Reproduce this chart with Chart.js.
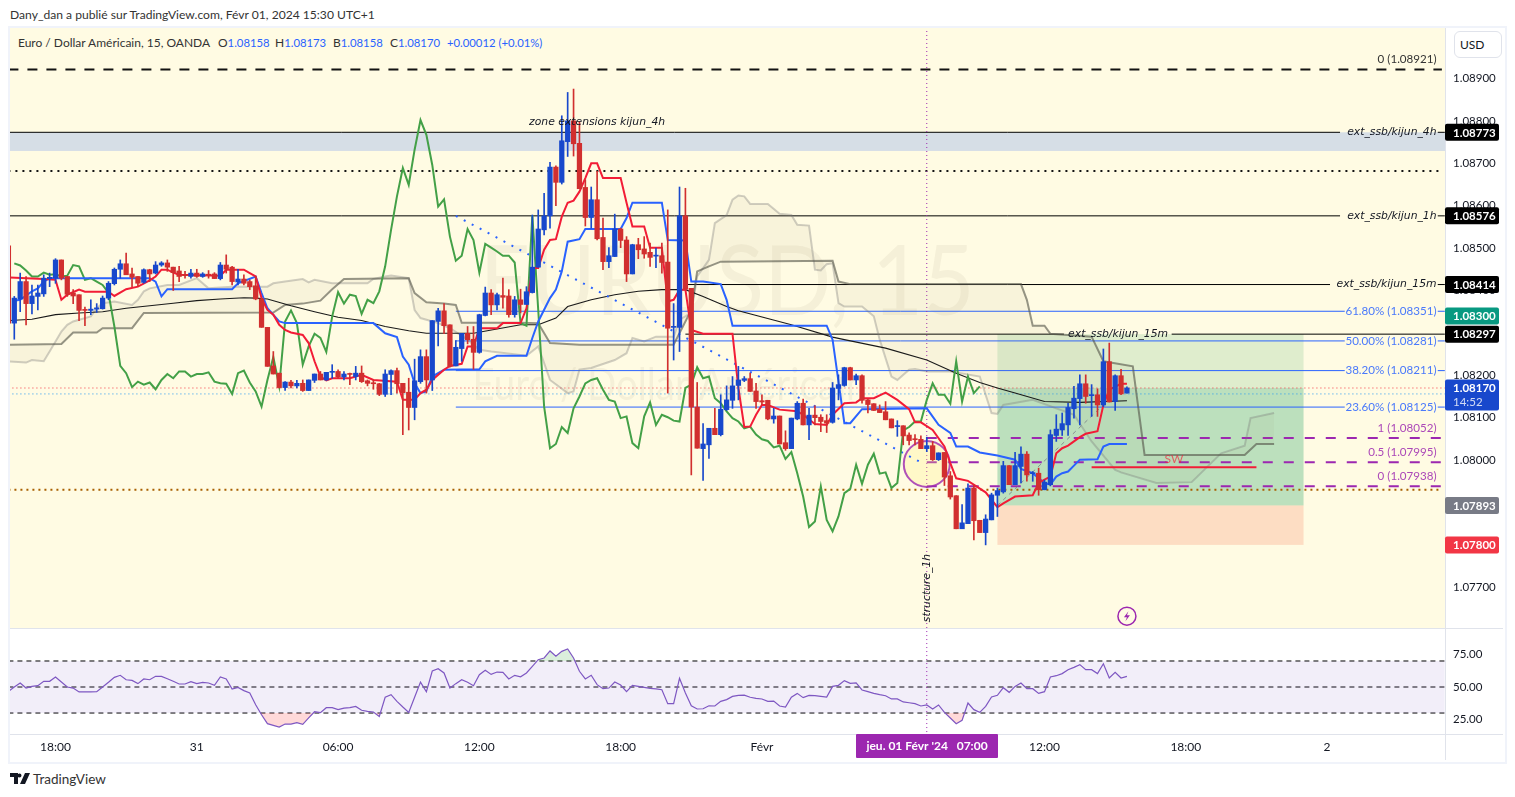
<!DOCTYPE html>
<html><head><meta charset="utf-8">
<style>
html,body{margin:0;padding:0;background:#fff;width:1515px;height:797px;overflow:hidden;font-family:Lato,"Noto Sans",sans-serif;color:#131722}
.abs{position:absolute}
#frame{left:8px;top:26px;width:1495px;height:734px;border:2px solid #F0F3FA}
#pane{left:10px;top:28px;width:1435px;height:600px;background:#FFFBE3}
#sepY{left:1445px;top:28px;width:1px;height:732px;background:#E0E3EB}
#sep1{left:10px;top:628px;width:1493px;height:1px;background:#E0E3EB}
#sep2{left:10px;top:734px;width:1493px;height:1px;background:#E0E3EB}
#head{left:10px;top:7px;font-size:12.1px;color:#333;white-space:nowrap}
#legend span{position:absolute;top:35px;font-size:12px;color:#333;white-space:pre}
#legend b{font-weight:400;color:#2962FF;font-size:11.3px}
#usd{left:1454px;top:31px;width:46px;height:25px;border:1px solid #E0E3EB;border-radius:6px;font-size:12px;line-height:25px;text-indent:5px;background:#fff}
#foot{left:33px;top:771px;font-size:13.5px;color:#333}
canvas{position:absolute;left:0}
</style>
</head><body>
<div class="abs" id="pane"></div>
<div class="abs" id="frame"></div>
<div class="abs" id="sepY"></div><div class="abs" id="sep1"></div><div class="abs" id="sep2"></div>
<div class="abs" id="head">Dany_dan a publié sur TradingView.com, Févr 01, 2024 15:30 UTC+1</div>
<div id="legend"><span style="left:18px">Euro / Dollar Américain, 15, OANDA</span><span style="left:218px">O<b>1.08158</b></span><span style="left:275px">H<b>1.08173</b></span><span style="left:333px">B<b>1.08158</b></span><span style="left:390px">C<b>1.08170</b></span><span style="left:447px"><b>+0.00012 (+0.01%)</b></span></div>
<div class="abs" id="usd">USD</div>
<svg class="abs" style="left:10px;top:773px" width="20" height="12" viewBox="0 0 20 12"><path fill="#131722" d="M0 0h8v11H4V4H0zM9.5 0.5a2 2 0 1 1 0 4 2 2 0 0 1 0-4zM15 0h5l-5 11h-5z"/></svg>
<div class="abs" id="foot">TradingView</div>
<canvas id="main" width="1515" height="629" style="top:0"></canvas>
<canvas id="osc" width="1515" height="169" style="top:628px"></canvas>
<script src="https://cdn.jsdelivr.net/npm/chart.js@4/dist/chart.umd.js"></script>
<script>
// candles: first bar index, then O/H/L/C for each 15 min bar (bar 0 = 30 Jan 18:00)
const firstBar=-8;
const opens=[1.08505,1.08323,1.08380,1.08421,1.08369,1.08386,1.08392,1.08428,1.08429,1.08472,1.08433,1.08394,1.08390,1.08354,1.08353,1.08356,1.08357,1.08382,1.08416,1.08450,1.08463,1.08439,1.08433,1.08419,1.08449,1.08441,1.08460,1.08465,1.08455,1.08446,1.08437,1.08433,1.08441,1.08433,1.08438,1.08439,1.08428,1.08460,1.08455,1.08420,1.08427,1.08421,1.08411,1.08380,1.08313,1.08222,1.08205,1.08171,1.08184,1.08175,1.08181,1.08164,1.08188,1.08203,1.08189,1.08207,1.08209,1.08196,1.08204,1.08197,1.08205,1.08187,1.08181,1.08180,1.08155,1.08202,1.08211,1.08181,1.08160,1.08124,1.08185,1.08244,1.08189,1.08327,1.08352,1.08319,1.08222,1.08263,1.08299,1.08285,1.08254,1.08341,1.08394,1.08366,1.08388,1.08387,1.08343,1.08378,1.08367,1.08395,1.08455,1.08543,1.08576,1.08691,1.08655,1.08751,1.08800,1.08747,1.08643,1.08572,1.08614,1.08525,1.08468,1.08480,1.08545,1.08519,1.08439,1.08508,1.08498,1.08490,1.08481,1.08482,1.08467,1.08313,1.08313,1.08576,1.08405,1.08125,1.08027,1.08036,1.08075,1.08060,1.08119,1.08141,1.08176,1.08188,1.08192,1.08163,1.08140,1.08141,1.08097,1.08104,1.08041,1.08027,1.08097,1.08134,1.08083,1.08106,1.08101,1.08093,1.08089,1.08169,1.08176,1.08218,1.08189,1.08199,1.08142,1.08133,1.08120,1.08114,1.08097,1.08079,1.08081,1.08059,1.08050,1.08049,1.08027,1.08034,1.08001,1.08018,1.07963,1.07916,1.07838,1.07850,1.07934,1.07858,1.07829,1.07859,1.07917,1.07925,1.07987,1.07942,1.07985,1.08014,1.07968,1.07969,1.07930,1.07942,1.08058,1.08071,1.08083,1.08121,1.08145,1.08180,1.08152,1.08154,1.08130,1.08232,1.08138,1.08199,1.08158];
const highs=[1.08505,1.08386,1.08441,1.08433,1.08413,1.08413,1.08437,1.08441,1.08475,1.08472,1.08433,1.08402,1.08390,1.08361,1.08378,1.08369,1.08387,1.08421,1.08453,1.08472,1.08488,1.08453,1.08433,1.08451,1.08450,1.08468,1.08468,1.08472,1.08455,1.08457,1.08445,1.08450,1.08450,1.08442,1.08447,1.08442,1.08466,1.08484,1.08457,1.08450,1.08437,1.08425,1.08433,1.08382,1.08313,1.08256,1.08205,1.08185,1.08188,1.08188,1.08189,1.08189,1.08203,1.08209,1.08207,1.08225,1.08213,1.08209,1.08205,1.08221,1.08222,1.08189,1.08189,1.08181,1.08213,1.08213,1.08217,1.08181,1.08193,1.08238,1.08260,1.08260,1.08329,1.08358,1.08369,1.08319,1.08282,1.08299,1.08315,1.08315,1.08344,1.08408,1.08402,1.08394,1.08429,1.08402,1.08386,1.08403,1.08409,1.08578,1.08590,1.08629,1.08702,1.08694,1.08812,1.08867,1.08875,1.08798,1.08661,1.08644,1.08681,1.08571,1.08501,1.08580,1.08547,1.08527,1.08509,1.08523,1.08527,1.08512,1.08500,1.08512,1.08590,1.08369,1.08644,1.08641,1.08405,1.08183,1.08086,1.08075,1.08122,1.08154,1.08175,1.08197,1.08221,1.08197,1.08205,1.08181,1.08154,1.08141,1.08122,1.08104,1.08069,1.08099,1.08138,1.08144,1.08122,1.08128,1.08107,1.08107,1.08183,1.08201,1.08219,1.08219,1.08203,1.08201,1.08144,1.08133,1.08130,1.08138,1.08097,1.08093,1.08081,1.08064,1.08060,1.08057,1.08054,1.08044,1.08017,1.08018,1.07973,1.07916,1.07895,1.07944,1.07942,1.07858,1.07871,1.07922,1.07934,1.07997,1.07987,1.08018,1.08031,1.08020,1.07973,1.07981,1.07953,1.08071,1.08107,1.08111,1.08134,1.08174,1.08201,1.08201,1.08178,1.08168,1.08262,1.08276,1.08201,1.08214,1.08173];
const lows=[1.08323,1.08285,1.08350,1.08319,1.08345,1.08354,1.08386,1.08409,1.08417,1.08425,1.08386,1.08369,1.08329,1.08317,1.08343,1.08348,1.08356,1.08378,1.08413,1.08429,1.08437,1.08409,1.08409,1.08417,1.08421,1.08439,1.08457,1.08445,1.08400,1.08421,1.08429,1.08429,1.08431,1.08431,1.08429,1.08428,1.08425,1.08441,1.08413,1.08413,1.08413,1.08402,1.08378,1.08313,1.08221,1.08203,1.08170,1.08164,1.08170,1.08170,1.08162,1.08164,1.08183,1.08189,1.08188,1.08193,1.08193,1.08189,1.08178,1.08189,1.08183,1.08175,1.08167,1.08152,1.08150,1.08154,1.08158,1.08060,1.08071,1.08095,1.08181,1.08158,1.08164,1.08269,1.08298,1.08219,1.08222,1.08233,1.08274,1.08214,1.08252,1.08340,1.08343,1.08354,1.08358,1.08337,1.08337,1.08347,1.08367,1.08394,1.08455,1.08531,1.08547,1.08600,1.08651,1.08716,1.08717,1.08640,1.08552,1.08547,1.08519,1.08449,1.08454,1.08480,1.08501,1.08421,1.08439,1.08475,1.08476,1.08457,1.08454,1.08441,1.08158,1.08236,1.08256,1.08403,1.07965,1.08028,1.07952,1.08004,1.08060,1.08057,1.08117,1.08122,1.08142,1.08185,1.08162,1.08122,1.08130,1.08095,1.08087,1.08038,1.08023,1.08027,1.08095,1.08083,1.08048,1.08083,1.08067,1.08065,1.08087,1.08142,1.08174,1.08189,1.08178,1.08134,1.08111,1.08117,1.08112,1.08095,1.08076,1.08056,1.08036,1.08036,1.08036,1.08027,1.08020,1.07999,1.07999,1.07940,1.07908,1.07838,1.07838,1.07850,1.07812,1.07829,1.07800,1.07859,1.07867,1.07922,1.07942,1.07942,1.07946,1.07950,1.07950,1.07917,1.07930,1.07939,1.08044,1.08058,1.08058,1.08099,1.08083,1.08134,1.08103,1.08103,1.08126,1.08137,1.08117,1.08154,1.08158];
const closes=[1.08323,1.08382,1.08421,1.08369,1.08387,1.08394,1.08429,1.08431,1.08472,1.08429,1.08391,1.08387,1.08353,1.08353,1.08356,1.08359,1.08382,1.08417,1.08450,1.08463,1.08437,1.08431,1.08417,1.08449,1.08439,1.08460,1.08465,1.08455,1.08442,1.08433,1.08435,1.08441,1.08433,1.08439,1.08436,1.08428,1.08460,1.08450,1.08421,1.08427,1.08417,1.08409,1.08380,1.08313,1.08221,1.08203,1.08171,1.08184,1.08175,1.08181,1.08164,1.08189,1.08203,1.08189,1.08207,1.08208,1.08196,1.08203,1.08202,1.08205,1.08185,1.08181,1.08180,1.08155,1.08203,1.08211,1.08180,1.08159,1.08124,1.08187,1.08244,1.08189,1.08329,1.08352,1.08317,1.08221,1.08266,1.08299,1.08284,1.08254,1.08343,1.08394,1.08366,1.08390,1.08384,1.08343,1.08378,1.08367,1.08397,1.08455,1.08545,1.08576,1.08691,1.08655,1.08753,1.08800,1.08746,1.08640,1.08572,1.08614,1.08522,1.08468,1.08482,1.08545,1.08518,1.08439,1.08508,1.08496,1.08486,1.08478,1.08482,1.08466,1.08311,1.08315,1.08576,1.08403,1.08125,1.08028,1.08038,1.08075,1.08060,1.08120,1.08142,1.08175,1.08189,1.08192,1.08162,1.08138,1.08137,1.08097,1.08104,1.08038,1.08027,1.08099,1.08134,1.08083,1.08106,1.08100,1.08091,1.08087,1.08170,1.08178,1.08218,1.08189,1.08199,1.08141,1.08131,1.08117,1.08112,1.08095,1.08076,1.08081,1.08057,1.08046,1.08048,1.08027,1.08034,1.08001,1.08017,1.07960,1.07913,1.07838,1.07852,1.07934,1.07857,1.07829,1.07861,1.07918,1.07928,1.07987,1.07942,1.07987,1.08014,1.07965,1.07969,1.07930,1.07948,1.08060,1.08073,1.08086,1.08124,1.08146,1.08180,1.08150,1.08154,1.08130,1.08232,1.08137,1.08199,1.08156,1.08170];

const chikouFirstBar=-7;
const chikou=[1.08464,1.08459,1.08447,1.08433,1.08433,1.08442,1.08437,1.08438,1.08433,1.08435,1.08460,1.08457,1.08425,1.08429,1.08421,1.08413,1.08394,1.08315,1.08222,1.08205,1.08172,1.08185,1.08178,1.08183,1.08167,1.08189,1.08203,1.08193,1.08209,1.08209,1.08197,1.08203,1.08203,1.08207,1.08185,1.08181,1.08180,1.08156,1.08205,1.08211,1.08183,1.08162,1.08126,1.08189,1.08243,1.08174,1.08327,1.08353,1.08323,1.08225,1.08268,1.08298,1.08288,1.08255,1.08339,1.08396,1.08369,1.08390,1.08387,1.08345,1.08378,1.08370,1.08398,1.08457,1.08543,1.08622,1.08689,1.08649,1.08732,1.08802,1.08767,1.08696,1.08598,1.08615,1.08527,1.08470,1.08482,1.08545,1.08519,1.08442,1.08510,1.08501,1.08492,1.08482,1.08482,1.08466,1.08323,1.08317,1.08578,1.08354,1.08126,1.08028,1.08038,1.08078,1.08064,1.08122,1.08150,1.08181,1.08189,1.08193,1.08166,1.08142,1.08138,1.08099,1.08103,1.08040,1.08028,1.08103,1.08136,1.08083,1.08107,1.08101,1.08093,1.08091,1.08170,1.08178,1.08219,1.08193,1.08197,1.08146,1.08134,1.08115,1.08099,1.08091,1.08075,1.08079,1.08060,1.08049,1.08045,1.08030,1.08034,1.08003,1.08019,1.07969,1.07914,1.07842,1.07855,1.07938,1.07859,1.07832,1.07867,1.07922,1.07932,1.07989,1.07944,1.07989,1.08015,1.07968,1.07971,1.07934,1.07946,1.08070,1.08078,1.08091,1.08091,1.08142,1.08181,1.08154,1.08154,1.08133,1.08233,1.08138,1.08197,1.08158,1.08174];

const tenkan=[[-8,1.08431],[-2,1.08427],[0,1.08425],[1,1.08378],[2,1.08390],[4,1.08402],[5,1.08397],[9,1.08397],[10,1.08387],[12,1.08403],[14,1.08409],[16,1.08424],[17,1.08433],[18,1.08449],[19,1.08449],[20,1.08442],[21,1.08437],[28,1.08435],[29,1.08449],[32,1.08449],[33,1.08441],[34,1.08433],[35,1.08382],[36,1.08354],[37,1.08343],[38,1.08319],[39,1.08307],[40,1.08301],[42,1.08295],[43,1.08276],[44,1.08233],[45,1.08197],[46,1.08188],[47,1.08193],[50,1.08193],[52,1.08201],[54,1.08189],[58,1.08185],[59,1.08142],[61,1.08142],[62,1.08158],[63,1.08166],[64,1.08189],[66,1.08213],[67,1.08222],[69,1.08227],[70,1.08268],[71,1.08268],[72,1.08311],[75,1.08311],[76,1.08323],[79,1.08323],[80,1.08358],[81,1.08453],[82,1.08453],[83,1.08496],[84,1.08519],[85,1.08521],[86,1.08574],[87,1.08607],[88,1.08612],[89,1.08633],[90,1.08665],[91,1.08700],[92,1.08700],[93,1.08665],[96,1.08665],[97,1.08607],[98,1.08551],[100,1.08551],[101,1.08501],[103,1.08501],[104,1.08374],[105,1.08378],[106,1.08402],[107,1.08402],[108,1.08307],[110,1.08298],[115,1.08298],[116,1.08170],[117,1.08078],[118,1.08079],[119,1.08107],[120,1.08130],[121,1.08130],[123,1.08119],[126,1.08115],[127,1.08107],[129,1.08085],[131,1.08083],[132,1.08107],[134,1.08134],[136,1.08136],[137,1.08146],[139,1.08146],[141,1.08159],[143,1.08142],[145,1.08120],[146,1.08089],[147,1.08089],[149,1.08071],[151,1.08032],[152,1.07993],[153,1.07957],[155,1.07951],[158,1.07924],[160,1.07889],[161,1.07898],[163,1.07914],[166,1.07917],[167,1.07946],[168,1.07954],[169,1.07961],[170,1.08016],[171,1.08028],[172,1.08034],[173,1.08044],[174,1.08054],[175,1.08062],[177,1.08068],[178,1.08130],[179,1.08166],[181,1.08180],[182,1.08180]];
const kijun=[[-7,1.08376],[-6,1.08378],[-4,1.08398],[-3,1.08405],[-2,1.08421],[-1,1.08429],[16,1.08429],[17,1.08421],[18,1.08386],[19,1.08403],[30,1.08403],[31,1.08417],[34,1.08433],[35,1.08394],[36,1.08358],[38,1.08327],[39,1.08323],[54,1.08323],[56,1.08299],[58,1.08290],[59,1.08244],[60,1.08225],[61,1.08181],[62,1.08158],[63,1.08162],[64,1.08197],[66,1.08213],[72,1.08214],[73,1.08233],[75,1.08246],[80,1.08246],[81,1.08288],[82,1.08327],[84,1.08382],[85,1.08402],[86,1.08445],[87,1.08515],[89,1.08521],[90,1.08545],[96,1.08545],[97,1.08571],[98,1.08607],[103,1.08607],[104,1.08519],[107,1.08518],[108,1.08421],[110,1.08421],[113,1.08415],[114,1.08378],[115,1.08317],[131,1.08317],[132,1.08284],[134,1.08087],[135,1.08087],[137,1.08120],[148,1.08122],[150,1.08083],[152,1.08064],[153,1.08032],[155,1.08032],[157,1.08018],[160,1.08011],[163,1.08001],[164,1.07979],[166,1.07969],[168,1.07946],[169,1.07942],[170,1.07961],[171,1.07969],[172,1.07973],[173,1.07987],[174,1.08001],[177,1.08002],[178,1.08032],[179,1.08038],[182,1.08038]];
const ema=[[-8,1.08329],[-4,1.08332],[0,1.08343],[4,1.08347],[8,1.08350],[12,1.08358],[16,1.08364],[20,1.08370],[24,1.08376],[28,1.08380],[32,1.08383],[34,1.08382],[36,1.08380],[40,1.08364],[44,1.08350],[48,1.08337],[52,1.08329],[56,1.08315],[60,1.08305],[63,1.08299],[71,1.08299],[79,1.08319],[82,1.08319],[85,1.08335],[87,1.08362],[91,1.08378],[95,1.08390],[99,1.08398],[103,1.08402],[107,1.08402],[110,1.08386],[114,1.08362],[116,1.08352],[125,1.08319],[132,1.08290],[134,1.08284],[141,1.08264],[148,1.08236],[153,1.08205],[157,1.08183],[160,1.08170],[163,1.08158],[168,1.08138],[174,1.08136],[182,1.08140]];
const spanA=[[-8,1.08233],[-5,1.08230],[-4,1.08236],[-2,1.08233],[-1,1.08256],[1,1.08303],[2,1.08319],[3,1.08327],[6,1.08339],[7,1.08358],[8,1.08370],[10,1.08374],[13,1.08366],[14,1.08378],[15,1.08398],[16,1.08405],[19,1.08413],[21,1.08413],[24,1.08429],[25,1.08417],[26,1.08405],[30,1.08409],[36,1.08409],[37,1.08417],[39,1.08421],[42,1.08427],[43,1.08419],[44,1.08425],[47,1.08417],[53,1.08417],[54,1.08427],[56,1.08433],[57,1.08435],[60,1.08429],[61,1.08354],[62,1.08335],[65,1.08323],[67,1.08311],[70,1.08284],[72,1.08260],[74,1.08256],[80,1.08246],[82,1.08268],[84,1.08189],[87,1.08158],[88,1.08162],[89,1.08213],[91,1.08217],[95,1.08236],[97,1.08252],[98,1.08288],[100,1.08280],[102,1.08291],[105,1.08291],[106,1.08331],[108,1.08347],[109,1.08433],[111,1.08472],[112,1.08559],[114,1.08578],[115,1.08614],[116,1.08624],[117,1.08622],[118,1.08604],[121,1.08604],[123,1.08581],[125,1.08578],[126,1.08555],[128,1.08553],[129,1.08449],[130,1.08447],[131,1.08462],[132,1.08464],[133,1.08370],[134,1.08362],[137,1.08362],[139,1.08339],[140,1.08284],[142,1.08197],[143,1.08189],[145,1.08213],[146,1.08215],[148,1.08209],[152,1.08209],[157,1.08197],[159,1.08111],[160,1.08109],[161,1.08130],[166,1.08142],[173,1.08107],[176,1.08044],[180,1.07977],[181,1.07971],[187,1.07946],[193,1.07948],[198,1.08016],[202,1.08034],[203,1.08099],[207,1.08111]];
const spanB=[[-8,1.08272],[1,1.08274],[3,1.08301],[7,1.08301],[8,1.08311],[13,1.08311],[15,1.08347],[37,1.08348],[39,1.08366],[42,1.08369],[45,1.08376],[47,1.08403],[49,1.08427],[60,1.08429],[61,1.08394],[63,1.08372],[66,1.08369],[68,1.08366],[69,1.08324],[79,1.08324],[82,1.08323],[84,1.08276],[89,1.08272],[105,1.08272],[108,1.08354],[109,1.08445],[111,1.08457],[113,1.08468],[132,1.08470],[133,1.08421],[135,1.08415],[164,1.08415],[165,1.08378],[166,1.08317],[168,1.08317],[169,1.08298],[176,1.08291],[178,1.08233],[183,1.08221],[185,1.08012],[202,1.08012],[204,1.08038],[207,1.08038]];

const rsiFirstBar=-8;
const rsi=[46.7,50,53.1,49.2,50.5,51,54.4,54.4,57.7,53.8,50,49.2,46.2,46.2,46.2,46.4,50,53.6,57.4,59,55.6,55.1,52.6,56.2,55.6,58.2,58.2,56.4,54.4,52.3,52.3,54.1,52.6,53.6,53.1,51.3,57.7,56.2,48.5,49.7,47.2,45.4,36.4,28.7,21.8,20.5,19.2,21.5,21.5,22.6,21.3,26.2,31,30.3,34.1,34.1,32.6,33.8,34.1,35.1,32.1,31.3,30.8,27.4,42.1,44.1,39,34.6,30.5,42.1,53.8,46.4,62.3,64.1,60.8,49.2,52.6,55.6,53.6,51,59.5,62.8,59.7,61.5,61.3,56.2,59,57.9,60.8,65.9,71,72.3,77.7,73.6,77.4,79.2,72.3,62.1,56.2,59,51.8,48.7,49.2,53.8,51.5,46.4,51.3,50.5,49.7,49,48.5,47.9,37.2,37.2,56.7,45.4,35.6,33.1,33.3,35.6,35.4,39,40.3,42.8,43.6,43.8,42.1,41.3,40.8,39,39.2,35.4,34.6,42.1,45.1,41.8,43.6,43.3,42.8,42.3,50.5,51.3,54.9,52.8,53.1,47.7,46.4,45.1,44.1,43.3,40.8,40.8,38.5,37.9,37.2,35.4,36.2,33.1,36.2,30.5,26.2,21.8,24.4,37.7,32.6,30.5,35.1,42.3,43.6,49.5,45.9,50.5,53.1,48.7,48.7,45.1,46.4,57.7,58.7,60.3,63.3,65.1,67.2,63.3,63.3,60.3,67.9,56.9,61.3,56.9,58.2];

// horizontal drawings: [price, fromBar, gapFromBar, gapToBar, toBar]
const blackLines=[[1.08773,-8,218.2,234.8,236],[1.08576,-8,218.2,234.8,236],[1.08414,107,216.5,234.8,236],[1.08297,107,171.3,189.6,236]];
const fibBlue=[[1.08351,68,219,234.8,236],[1.08281,68,219,234.8,236],[1.08211,68,219,234.8,236],[1.08125,68,219,234.8,236]];
const fibPurple=[1.08052,1.07995,1.07938];
const zoneTop=1.08773, zoneBottom=1.08729;
const targetTop=1.08297, entry=1.07893, stop=1.07800, lastPrice=1.08170, bidPrice=1.08156;
const dashedTop=1.08921, dottedBlack=1.08682, dottedBrown=1.07930;
const swLine=[[176,1.07983],[204,1.07983]];
const trendDots=[[68,1.08576],[147.5,1.07991]];
const tradeDash=[[160,1.07893],[178,1.08130]];
const boxFrom=160, boxTo=212;
const structureBar=148;
const yTicks=[1.089,1.088,1.087,1.086,1.085,1.084,1.083,1.082,1.081,1.08,1.077];
const timeTicks=[0,24,48,72,96,120,168,192,216];
const timeLabels=['18:00','31','06:00','12:00','18:00','Févr','12:00','18:00','2'];
const rsiTicks=[75,50,25];
const priceTags=[['1.08773',1.08773,'#000',0],['1.08576',1.08576,'#000',0],['1.08414',1.08414,'#000',0],['1.08300',1.0830,'#089981',-17],['1.08297',1.08297,'#000',0],['1.07893',1.07893,'#787B86',0],['1.07800',1.0780,'#F23645',0]];
const onLineLabels=[['ext_ssb/kijun_4h',1.08773],['ext_ssb/kijun_1h',1.08576],['ext_ssb/kijun_15m',1.08414]];
const fibBlueLabels=[['61.80% (1.08351)',1.08351],['50.00% (1.08281)',1.08281],['38.20% (1.08211)',1.08211],['23.60% (1.08125)',1.08125]];
const fibPurpleLabels=[['1 (1.08052)',1.08052],['0.5 (1.07995)',1.07995],['0 (1.07938)',1.07938]];

const FONT='Lato, "Noto Sans", sans-serif';
const DRAW_FONT='italic 10.8px "DejaVu Sans", sans-serif';
const xMin=-7.73,xMax=236.03;
const yMin=1.07604,yMax=1.09019;
const pts=a=>a.map(([x,y])=>({x,y}));
const lineDs=(data,color,width,order,extra)=>Object.assign({type:'line',data,borderColor:color,borderWidth:width,pointRadius:0,tension:0,order,fill:false,spanGaps:false},extra||{});
const hLine=([p,a,g1,g2,b])=>[{x:a,y:p},{x:g1,y:p},{x:g1,y:null},{x:g2,y:null},{x:g2,y:p},{x:b,y:p}];
const span=(p,a,b)=>[{x:a,y:p},{x:b,y:p}];
const bars=opens.map((_,k)=>firstBar+k);
const colors=bars.map((_,k)=>closes[k]>=opens[k]?'#1848CC':'#D12F2F');
const cloudColor='rgba(150,140,105,0.07)';
const noPad=s=>{s.paddingTop=0;s.paddingBottom=0;s.paddingLeft=0;s.paddingRight=0;};

const datasets=[
  {type:'bar',data:bars.map((x,k)=>({x,y:[opens[k],closes[k]]})),backgroundColor:colors,barThickness:4.6,grouped:false,minBarLength:1,order:1},
  {type:'bar',data:bars.map((x,k)=>({x,y:[lows[k],highs[k]]})),backgroundColor:colors,barThickness:1,grouped:false,order:2},
  lineDs(pts(spanA),'rgba(120,120,120,0.35)',2,9,{fill:{target:'+1',above:cloudColor,below:cloudColor}}),
  lineDs(pts(spanB),'rgba(85,85,75,0.62)',2,8),
  lineDs(pts(ema),'#1a1a1a',1.1,7),
  lineDs(chikou.map((y,k)=>({x:chikouFirstBar+k,y})),'#43A047',2,5),
  lineDs(pts(kijun),'#2962FF',2,4),
  lineDs(pts(tenkan),'#F21C36',2,3),
  lineDs(pts(trendDots),'#2962FF',2,6,{borderDash:[2,7]}),
  lineDs(pts(tradeDash),'rgba(120,123,134,.8)',1,6,{borderDash:[4,4]}),
  lineDs(pts(swLine),'#F21C36',2,6),
  lineDs(span(dashedTop,-8,235.5),'#131313',2,12,{borderDash:[10,9]}),
  lineDs(span(dottedBlack,-8,235.5),'#131313',2,12,{borderDash:[2,5]}),
  lineDs(span(dottedBrown,-8,235.5),'#A85F00',2,12,{borderDash:[2,4]}),
  ...blackLines.map(l=>lineDs(hLine(l),'#000',1,12)),
  ...fibBlue.map(l=>lineDs(hLine(l),'#2962FF',1,12)),
  ...fibPurple.map(p=>lineDs(span(p,148,235.5),'#9C27B0',2,12,{borderDash:[10,11]})),
  lineDs(span(lastPrice,-8,236),'#F23645',1,12,{borderDash:[1,3]}),
  lineDs(span(bidPrice,-8,236),'#2196F3',1,12,{borderDash:[1,3]}),
  lineDs([{x:structureBar,y:yMin},{x:structureBar,y:yMax}],'#9C27B0',1,11,{borderDash:[1,3]}),
  {type:'bubble',data:[{x:148,y:1.07991,r:23}],backgroundColor:'rgba(255,238,120,.25)',borderColor:'rgba(156,39,176,.8)',borderWidth:2,order:10},
  {type:'bubble',data:[{x:182,y:1.07632,r:9}],backgroundColor:'#FFFBE3',borderColor:'#9C27B0',borderWidth:1.5,order:10}
];

const rect=(c,xs,ys,a,b,p,q,fill)=>{const x1=xs.getPixelForValue(a),x2=xs.getPixelForValue(b),y1=ys.getPixelForValue(p),y2=ys.getPixelForValue(q);c.fillStyle=fill;c.fillRect(x1,y1,x2-x1,y2-y1);};

const backdrop={id:'backdrop',beforeDatasetsDraw(ch){
  const c=ch.ctx,xs=ch.scales.x,ys=ch.scales.y,a=ch.chartArea;
  c.save();c.beginPath();c.rect(a.left,a.top,a.width,a.height);c.clip();
  rect(c,xs,ys,xMin,xMax,zoneTop,zoneBottom,'#D6DEE6');
  c.textBaseline='alphabetic';c.textAlign='center';c.fillStyle='rgba(120,110,80,0.075)';
  c.font='96px '+FONT;c.fillText('EURUSD, 15',727,315,495);
  c.font='44px '+FONT;c.fillText('Euro / Dollar Américain',670,400,395);
  rect(c,xs,ys,boxFrom,boxTo,targetTop,lastPrice,'rgba(40,160,80,0.15)');
  rect(c,xs,ys,boxFrom,boxTo,lastPrice,entry,'rgba(8,153,90,0.27)');
  rect(c,xs,ys,boxFrom,boxTo,entry,stop,'rgba(245,90,50,0.18)');
  c.restore();
}};
const overlay={id:'overlay',afterDraw(ch){
  const c=ch.ctx,xs=ch.scales.x,ys=ch.scales.y,a=ch.chartArea;
  const R=xs.getPixelForValue(234.6);
  c.save();c.textBaseline='middle';
  c.textAlign='right';c.font=DRAW_FONT;c.fillStyle='#131722';
  onLineLabels.forEach(([t,p])=>c.fillText(t,R,ys.getPixelForValue(p)));
  c.font='11.6px '+FONT;c.fillStyle='rgba(41,98,255,.85)';
  fibBlueLabels.forEach(([t,p])=>c.fillText(t,R,ys.getPixelForValue(p)));
  c.fillStyle='rgba(156,39,176,.85)';
  fibPurpleLabels.forEach(([t,p])=>c.fillText(t,R,ys.getPixelForValue(p)-10));
  c.fillStyle='#333';c.fillText('0 (1.08921)',R,ys.getPixelForValue(dashedTop)-10);
  c.textAlign='center';c.font=DRAW_FONT;c.fillStyle='#131722';
  c.fillText('zone extensions kijun_4h',xs.getPixelForValue(92),ys.getPixelForValue(zoneTop)-10);
  c.fillText('ext_ssb/kijun_15m',xs.getPixelForValue(180.5),ys.getPixelForValue(targetTop));
  c.font='12px '+FONT;c.fillStyle='rgba(242,28,54,.65)';
  c.fillText('SW',xs.getPixelForValue(190),ys.getPixelForValue(1.07983)-8);
  c.save();c.translate(xs.getPixelForValue(structureBar),588);c.rotate(-Math.PI/2);c.font=DRAW_FONT;c.fillStyle='#131722';c.textAlign='center';c.fillText('structure_1h',0,0);c.restore();
  // lightning glyph inside alert bubble
  const lx=xs.getPixelForValue(182),ly=ys.getPixelForValue(1.07632);
  c.fillStyle='#9C27B0';c.beginPath();c.moveTo(lx+1.5,ly-5);c.lineTo(lx-3,ly+1);c.lineTo(lx,ly+1);c.lineTo(lx-1.5,ly+5);c.lineTo(lx+3,ly-1);c.lineTo(lx,ly-1);c.closePath();c.fill();
  // price tags
  c.textAlign='left';c.font='700 11.5px '+FONT;
  priceTags.forEach(([t,p,bg,shift])=>{const y=ys.getPixelForValue(p)+shift;c.fillStyle=bg;c.beginPath();c.roundRect(a.right,y-8.5,54,17,2);c.fill();c.fillStyle='#fff';c.fillText(t,a.right+8,y+.5);});
  const yl=ys.getPixelForValue(lastPrice);
  c.fillStyle='#1848CC';c.beginPath();c.roundRect(a.right,yl-8.5,54,31,2);c.fill();
  c.fillStyle='#fff';c.fillText('1.08170',a.right+8,yl+.5);
  c.font='11.5px '+FONT;c.fillStyle='rgba(255,255,255,.8)';c.fillText('14:52',a.right+8,yl+14.5);
  c.restore();
}};

new Chart(document.getElementById('main'),{type:'bar',data:{datasets},plugins:[backdrop,overlay],options:{
  responsive:false,animation:false,devicePixelRatio:1,events:[],
  layout:{autoPadding:false,padding:{left:10,right:12,top:28,bottom:1}},
  plugins:{legend:{display:false},tooltip:{enabled:false}},
  scales:{
    x:{type:'linear',min:xMin,max:xMax,offset:false,display:false,grid:{display:false,offset:false}},
    y:{type:'linear',position:'right',min:yMin,max:yMax,
      afterFit(s){s.width=58;noPad(s);},
      afterBuildTicks(s){s.ticks=yTicks.map(value=>({value}));},
      grid:{display:false,drawTicks:false},border:{display:false},
      ticks:{autoSkip:false,padding:8,color:'#131722',font:{family:FONT,size:11.5},callback:v=>v.toFixed(5)}}
  }
}});

const rsiPts=rsi.map((y,k)=>({x:rsiFirstBar+k,y}));
const tagPlugin={id:'tag',afterDraw(ch){
  const c=ch.ctx;
  c.save();c.fillStyle='#9C27B0';c.beginPath();c.roundRect(856,106,142,24,1);c.fill();
  c.fillStyle='#fff';c.font='700 12px '+FONT;c.textAlign='center';c.textBaseline='middle';
  c.fillText("jeu. 01 Févr '24   07:00",927,118.5);c.restore();
}};
new Chart(document.getElementById('osc'),{type:'line',plugins:[tagPlugin],data:{datasets:[
  lineDs(span(70,-8,236),'#000',1,5,{borderDash:[5,4],fill:{target:{value:30},above:'rgba(126,87,194,.1)',below:'rgba(126,87,194,.1)'}}),
  lineDs(span(50,-8,236),'#000',1,5,{borderDash:[5,4]}),
  lineDs(span(30,-8,236),'#000',1,5,{borderDash:[5,4]}),
  lineDs(rsiPts,'transparent',0,4,{fill:{target:{value:70},above:'rgba(76,175,80,.2)',below:'transparent'}}),
  lineDs(rsiPts,'#7E57C2',1.2,2,{fill:{target:{value:30},above:'transparent',below:'rgba(255,82,82,.22)'}}),
  lineDs([{x:structureBar,y:0},{x:structureBar,y:100}],'#9C27B0',1,3,{borderDash:[1,3]})
]},options:{
  responsive:false,animation:false,devicePixelRatio:1,events:[],
  layout:{autoPadding:false,padding:{left:10,right:12,top:1,bottom:37}},
  plugins:{legend:{display:false},tooltip:{enabled:false}},
  scales:{
    x:{type:'linear',min:xMin,max:xMax,offset:false,afterFit(s){s.height=25;noPad(s);},
      afterBuildTicks(s){s.ticks=timeTicks.map(value=>({value}));},
      grid:{display:false,drawTicks:false},border:{display:false},
      ticks:{autoSkip:false,maxRotation:0,padding:5,color:'#131722',font:{family:FONT,size:12},callback:v=>timeLabels[timeTicks.indexOf(v)]}},
    y:{type:'linear',position:'right',min:13.1,max:94.6,afterFit(s){s.width=58;noPad(s);},
      afterBuildTicks(s){s.ticks=rsiTicks.map(value=>({value}));},
      grid:{display:false,drawTicks:false},border:{display:false},
      ticks:{autoSkip:false,padding:8,color:'#131722',font:{family:FONT,size:11.5},callback:v=>v.toFixed(2)}}
  }
}});
</script>
</body></html>
